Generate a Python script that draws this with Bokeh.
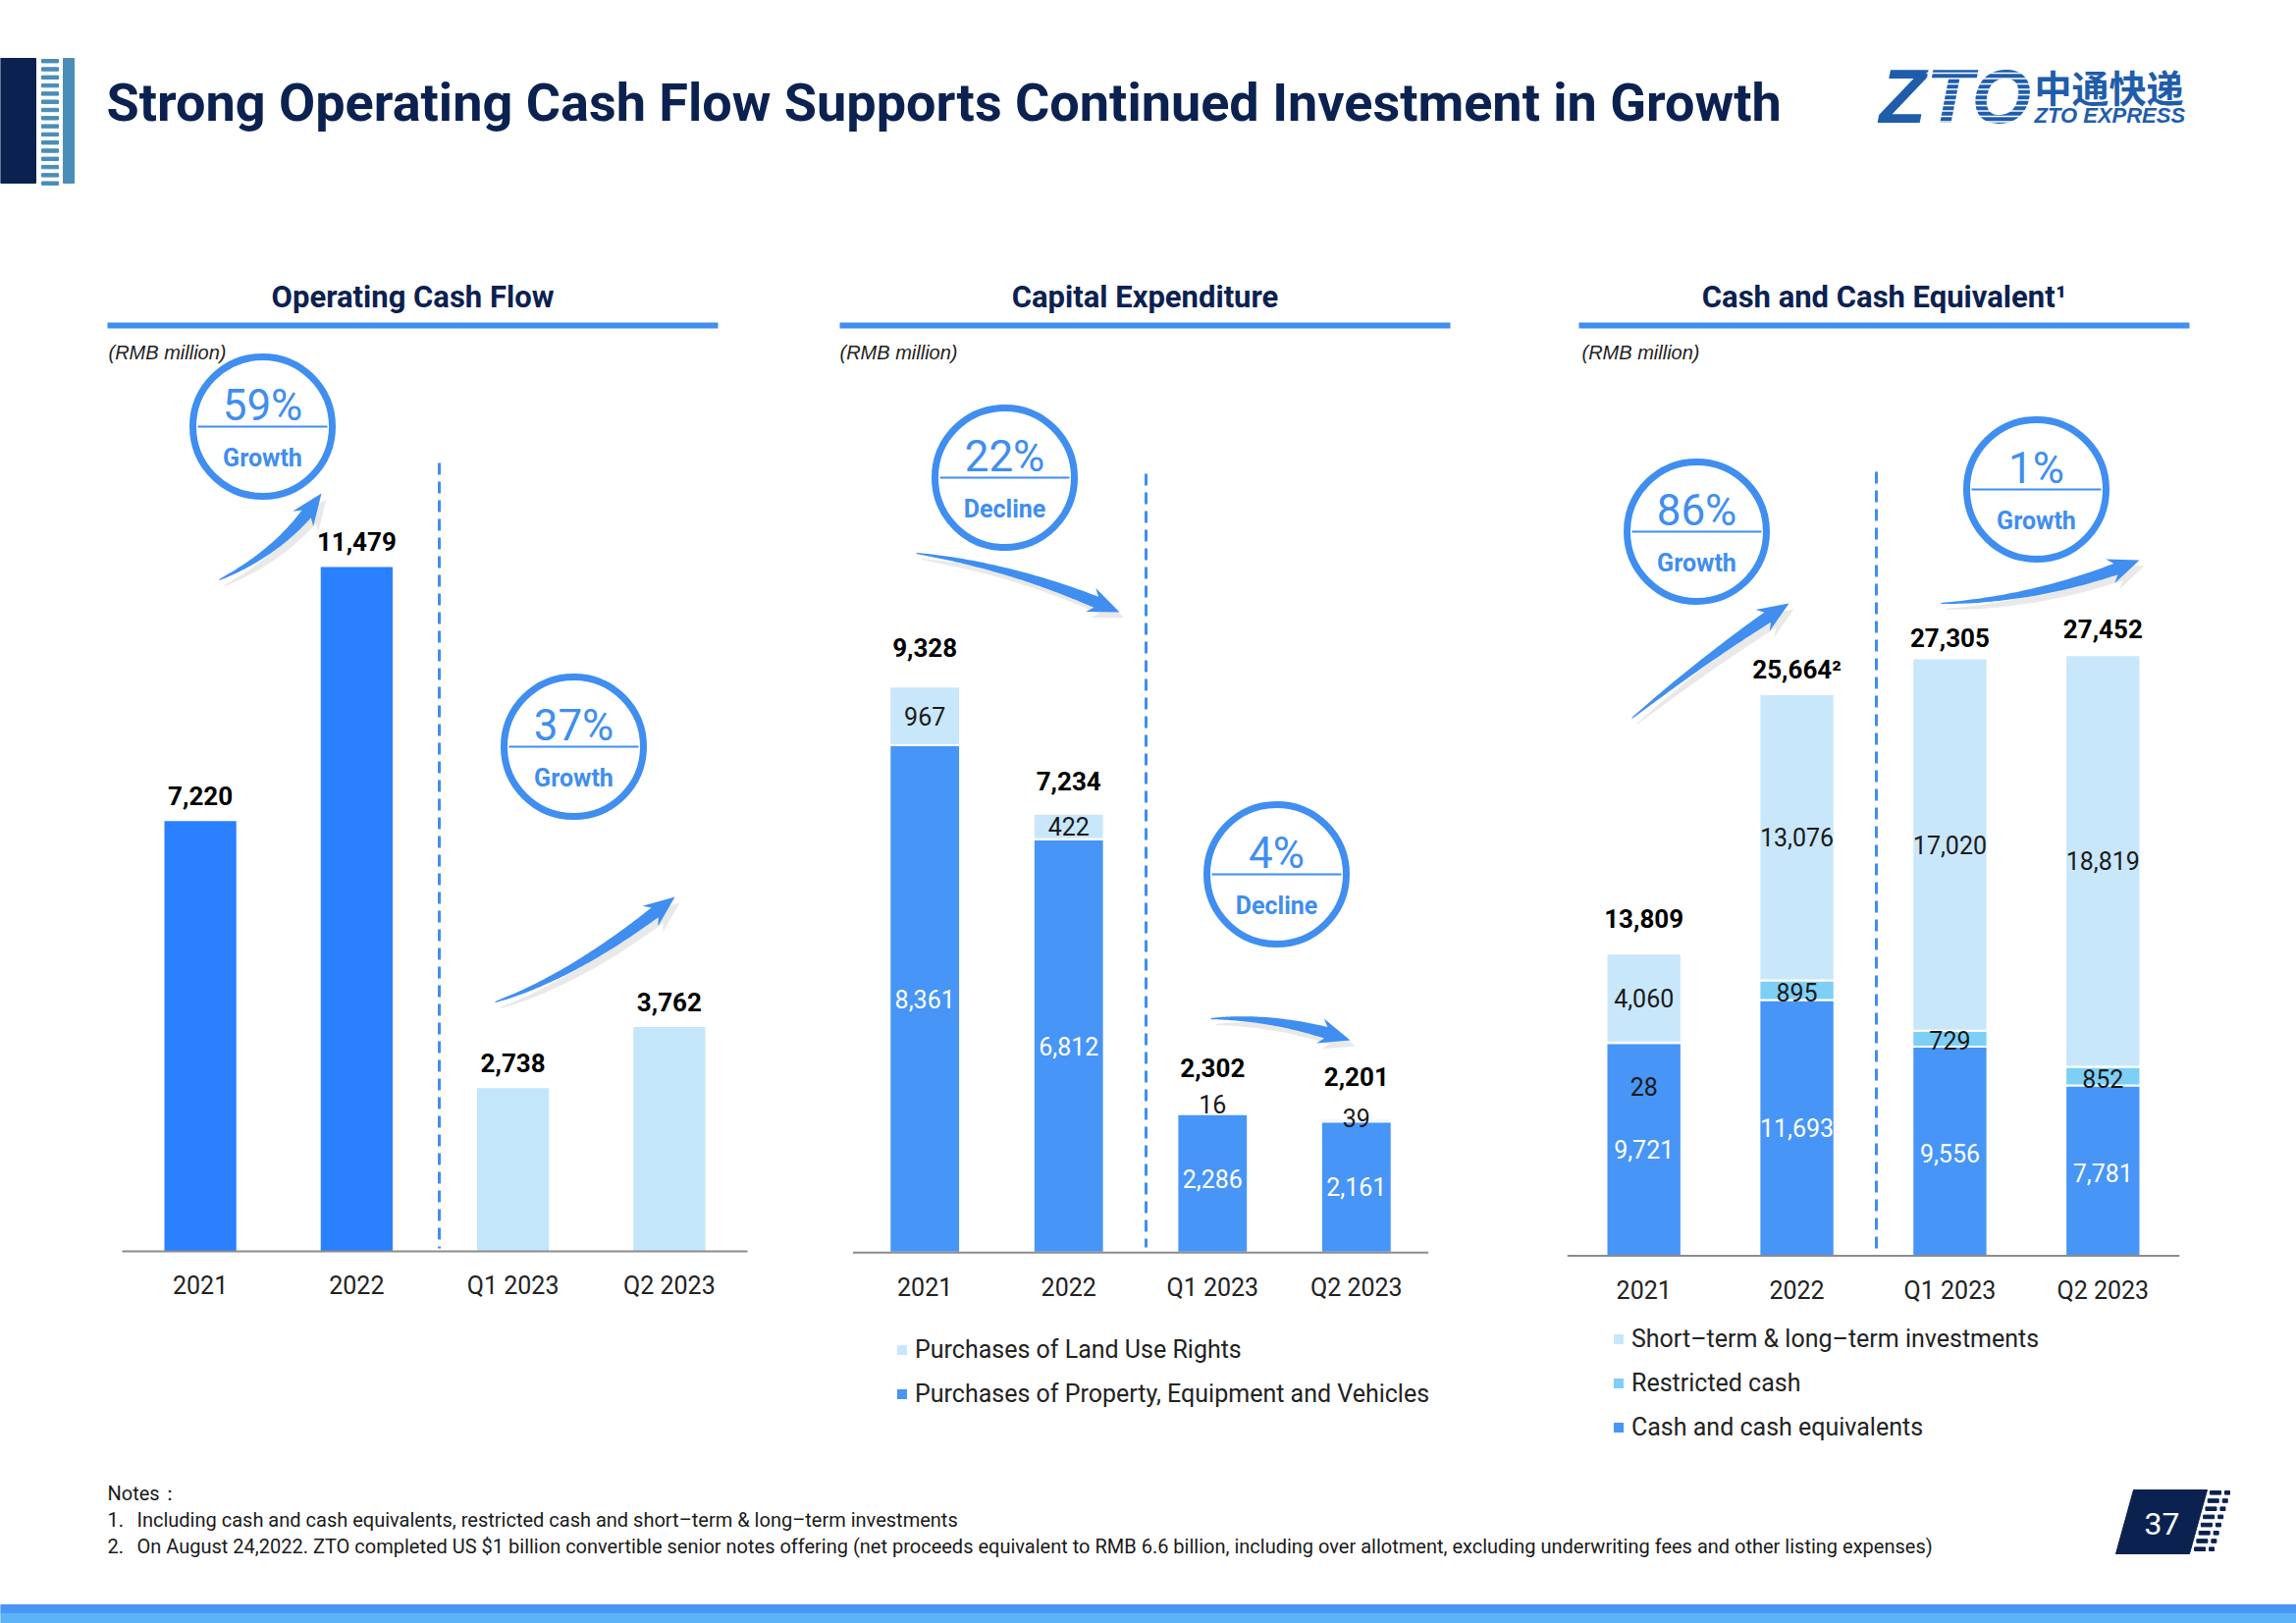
import numpy as np
from bokeh.plotting import figure
from bokeh.models import Range1d, FactorRange, Label, Legend, LegendItem, ColumnDataSource, Spacer
from bokeh.layouts import column, row
from bokeh.embed import file_html
from bokeh.resources import INLINE

# ---------------- data ----------------
periods = ["2021", "2022", "Q1 2023", "Q2 2023"]

ocf = [7220, 11479, 2738, 3762]

capex_land = [967, 422, 16, 39]
capex_ppe = [8361, 6812, 2286, 2161]
capex_total = [9328, 7234, 2302, 2201]

cash_equivalents = [9721, 11693, 9556, 7781]
restricted_cash = [28, 895, 729, 852]
investments = [4060, 13076, 17020, 18819]
cash_total = [13809, 25664, 27305, 27452]
cash_total_marks = ["", "²", "", ""]

badges_ocf = [("59%", "Growth"), ("37%", "Growth")]
badges_capex = [("22%", "Decline"), ("4%", "Decline")]
badges_cash = [("86%", "Growth"), ("1%", "Growth")]

capex_legend = ["Purchases of Land Use Rights", "Purchases of Property, Equipment and Vehicles"]
cash_legend = ["Short–term & long–term investments", "Restricted cash", "Cash and cash equivalents"]

page_title = "Strong Operating Cash Flow Supports Continued Investment in Growth"
chart_titles = ["Operating Cash Flow", "Capital Expenditure", "Cash and Cash Equivalent¹"]
unit_label = "(RMB million)"
notes_head = "Notes："
notes = [("1.", "Including cash and cash equivalents, restricted cash and short–term & long–term investments"),
         ("2.", "On August 24,2022. ZTO completed US $1 billion convertible senior notes offering (net proceeds "
                "equivalent to RMB 6.6 billion, including over allotment, excluding underwriting fees and other listing expenses)")]
page_number = "37"

# ---------------- styles ----------------
NAVY = "#0B2150"
BLUE = "#3F8EF0"
OCF_DARK = "#2B80FF"
OCF_LIGHT = "#C3E6FA"
DARK = "#4795F6"
LIGHT = "#C9E7FB"
RESTR = "#7ECFF6"
TXT = "#1A1A1A"
NARROW = "Roboto, 'DejaVu Sans Condensed', sans-serif"
SANS = "'Liberation Sans', Arial, sans-serif"
CJK = "'Noto Sans CJK SC', sans-serif"

PAGE_W, PAGE_H = 2339, 1653
ROW_TOP, ROW_BOT = 270, 1480


def plain_fig(w, h, xr, yr):
    p = figure(width=w, height=h, x_range=Range1d(*xr), y_range=Range1d(*yr),
               output_backend="svg", toolbar_location=None, min_border=0)
    p.axis.visible = False
    p.grid.visible = False
    p.outline_line_color = None
    return p


def lbl(p, x, y, text, size, color=TXT, font=NARROW, style="normal", align="left", baseline="middle"):
    p.add_layout(Label(x=x, y=y, text=text, text_font=font, text_font_size=f"{size}px",
                       text_font_style=style, text_color=color, text_align=align,
                       text_baseline=baseline))


class Panel:
    def __init__(self, base_left, base_right, base_y, k, ext_left, ext_right, bar_w):
        n = len(periods)
        self.sp = (base_right - base_left) / n
        center = (base_left + base_right) / 2
        half = max(center - ext_left, ext_right - center)
        self.L = int(round(center - half))
        self.W = int(round(2 * half))
        self.pad = (self.W / self.sp - n) / 2
        self.by = base_y
        self.k = k
        self.H = ROW_BOT - ROW_TOP
        p = figure(width=self.W, height=self.H,
                   x_range=FactorRange(factors=periods, range_padding=self.pad,
                                       range_padding_units="absolute"),
                   y_range=Range1d(self.Y(ROW_BOT), self.Y(ROW_TOP)),
                   output_backend="svg", toolbar_location=None, min_border=0)
        p.yaxis.visible = False
        p.grid.visible = False
        p.outline_line_color = None
        ax = p.xaxis[0]
        ax.fixed_location = 0
        ax.axis_line_color = None
        ax.major_tick_line_color = None
        ax.minor_tick_line_color = None
        ax.major_label_standoff = 15
        ax.major_label_text_font = NARROW
        ax.major_label_text_font_size = "25px"
        ax.major_label_text_color = "#222222"
        self.p = p
        self.bar_w = bar_w

    def X(self, px):
        return (np.asarray(px, dtype=float) - self.L) / self.sp - self.pad

    def Y(self, py):
        return (self.by - np.asarray(py, dtype=float)) / self.k

    def baseline(self):
        n = len(periods)
        self.p.segment(x0=[0], y0=[0], x1=[n], y1=[0], line_color="#8C8C8C", line_width=2)

    def hline(self, x0, x1, y, w, color=BLUE):
        self.p.segment(x0=[float(self.X(x0))], y0=[float(self.Y(y))], x1=[float(self.X(x1))],
                       y1=[float(self.Y(y))], line_color=color, line_width=w)

    def dashed(self, x, y0, y1):
        self.p.segment(x0=[float(self.X(x))], y0=[float(self.Y(y0))], x1=[float(self.X(x))],
                       y1=[float(self.Y(y1))], line_color=BLUE, line_width=3, line_dash="12 7")

    def text(self, x, y, s, size, **kw):
        lbl(self.p, float(self.X(x)), float(self.Y(y)), s, size, **kw)

    def header(self, title, tx, ul0, ul1, ux):
        self.text(tx, 302, title, 31, color=NAVY, style="bold", align="center")
        self.hline(ul0, ul1, 331, 6)
        self.text(ux, 358, unit_label, 20, font=SANS, style="italic", color="#222222")

    def badge(self, cx, cy, top, bottom):
        self.p.circle(x=[float(self.X(cx))], y=[float(self.Y(cy))], radius=71, radius_units="screen",
                      fill_color="white", line_color=BLUE, line_width=7)
        self.hline(cx - 66, cx + 66, cy, 2)
        self.text(cx, cy - 22, top, 44, color=BLUE, align="center")
        self.text(cx, cy + 32, bottom, 25, color=BLUE, align="center", style="bold")

    def arrow(self, p0, c, p2, w_end=12, head_len=26, head_w=26):
        ts = np.linspace(0, 1, 400)
        bx = (1 - ts) ** 2 * p0[0] + 2 * (1 - ts) * ts * c[0] + ts ** 2 * p2[0]
        by = (1 - ts) ** 2 * p0[1] + 2 * (1 - ts) * ts * c[1] + ts ** 2 * p2[1]
        d = np.hypot(bx - p2[0], by - p2[1])
        te = ts[int(np.argmax(d <= head_len))]
        t = np.linspace(0, te, 50)
        x = (1 - t) ** 2 * p0[0] + 2 * (1 - t) * t * c[0] + t ** 2 * p2[0]
        y = (1 - t) ** 2 * p0[1] + 2 * (1 - t) * t * c[1] + t ** 2 * p2[1]
        dx = 2 * (1 - t) * (c[0] - p0[0]) + 2 * t * (p2[0] - c[0])
        dy = 2 * (1 - t) * (c[1] - p0[1]) + 2 * t * (p2[1] - c[1])
        nn = np.hypot(dx, dy)
        nx, ny = -dy / nn, dx / nn
        hw = 0.5 * w_end * (0.08 + 0.92 * (t / te) ** 0.8)
        lx, ly = x + nx * hw, y + ny * hw
        rx, ry = x - nx * hw, y - ny * hw
        ex, ey = x[-1], y[-1]
        ux, uy = p2[0] - ex, p2[1] - ey
        un = np.hypot(ux, uy)
        ux, uy = ux / un, uy / un
        hx, hy = -uy, ux
        back = 6
        xs = list(lx) + [ex + hx * head_w / 2 - ux * back, p2[0], ex - hx * head_w / 2 - ux * back] + list(rx[::-1])
        ys = list(ly) + [ey + hy * head_w / 2 - uy * back, p2[1], ey - hy * head_w / 2 - uy * back] + list(ry[::-1])
        xs, ys = np.array(xs), np.array(ys)
        self.p.patch(x=self.X(xs + 5), y=self.Y(ys + 6), fill_color="#9A9A9A", fill_alpha=0.22, line_color=None)
        self.p.patch(x=self.X(xs), y=self.Y(ys), fill_color=BLUE, line_color=None)


# ---------------- header ----------------
hdr = plain_fig(PAGE_W, ROW_TOP, (0, PAGE_W), (ROW_TOP, 0))
hdr.quad(left=[0], right=[36], top=[59], bottom=[186], color=NAVY)
stripe_y = np.arange(60, 186, 8.3)
hdr.quad(left=42, right=59, top=stripe_y, bottom=stripe_y + 3.4, color="#4A8DB8")
hdr.quad(left=[64], right=[75], top=[59], bottom=[186], color="#4A8DB8")
lbl(hdr, 108, 104, page_title, 54, color=NAVY, style="bold")
# logo: striped "ZTO" letters (glyph text so the white stripes can be drawn over it)
hdr.text(x=[1914], y=[97], text=["ZTO"], text_font={"value": SANS}, text_font_size="78px",
         text_font_style="bold italic", text_color="#1F5DAB", text_baseline="middle")
ly = np.arange(74, 124, 5.5)
hdr.segment(x0=1962, y0=ly, x1=2072, y1=ly, line_color="white", line_width=1.6)
lbl(hdr, 2072, 87, "中通快递", 38, color="#1F5DAB", font=CJK, style="bold")
lbl(hdr, 2072, 117, "ZTO EXPRESS", 22, color="#1F5DAB", font=SANS, style="bold italic")

# ---------------- chart 1: operating cash flow ----------------
c1 = Panel(123.8, 760.8, 1273.9, 0.0607, 104, 770, 0.46)
p1 = c1.p
src1 = ColumnDataSource(dict(x=periods, top=ocf,
                             color=[OCF_DARK, OCF_DARK, OCF_LIGHT, OCF_LIGHT],
                             label=[f"{v:,}" for v in ocf]))
p1.vbar(x="x", top="top", bottom=0, width=c1.bar_w, fill_color="color", line_color=None, source=src1)
p1.text(x="x", y="top", text="label", source=src1, y_offset=-26, text_align="center",
        text_baseline="middle", text_font={"value": NARROW}, text_font_size="26px",
        text_font_style="bold", text_color="black")
c1.baseline()
c1.dashed(447, 471, 1271)
c1.header(chart_titles[0], 420, 109, 731, 110)
c1.arrow((223, 590), (291, 558), (327, 502))
c1.arrow((504, 1020), (587, 993), (687, 913))
c1.badge(267, 434, *badges_ocf[0])
c1.badge(584, 760, *badges_ocf[1])

# ---------------- chart 2: capital expenditure ----------------
c2 = Panel(868.2, 1454.4, 1275.2, 0.0618, 850, 1480, 0.49)
p2 = c2.p
src2 = ColumnDataSource(dict(x=periods, ppe=capex_ppe, land=capex_land))
r_ppe, r_land = p2.vbar_stack(["ppe", "land"], x="x", width=c2.bar_w, color=[DARK, LIGHT],
                              line_color="white", line_width=2, source=src2)
seg2 = ColumnDataSource(dict(
    x=periods * 3,
    y=[v / 2 for v in capex_ppe] + [a + b / 2 for a, b in zip(capex_ppe, capex_land)] + capex_total,
    text=[f"{v:,}" for v in capex_ppe] + [f"{v:,}" for v in capex_land] + [f"{v:,}" for v in capex_total],
    color=["white"] * 4 + [TXT] * 4 + ["black"] * 4,
    style=["normal"] * 8 + ["bold"] * 4,
    size=["25px"] * 8 + ["26px"] * 4,
    yoff=[0, 0, -5, 0] + [0, 0, -9, -2] + [-40, -33, -46, -43],
))
p2.text(x="x", y="y", text="text", source=seg2, y_offset="yoff", text_align="center",
        text_baseline="middle", text_font={"value": NARROW}, text_font_size="size",
        text_font_style="style", text_color="color")
c2.baseline()
c2.dashed(1167, 482, 1270)
c2.header(chart_titles[1], 1166, 855, 1477, 855)
c2.arrow((933, 563), (1037, 577), (1140, 623))
c2.arrow((1233, 1037), (1302, 1034), (1375, 1059))
c2.badge(1023, 486, *badges_capex[0])
c2.badge(1300, 890, *badges_capex[1])
leg2 = Legend(items=[LegendItem(label=capex_legend[0], renderers=[r_land]),
                     LegendItem(label=capex_legend[1], renderers=[r_ppe])],
              location=(911 - c2.L, 46), orientation="vertical",
              glyph_width=15, glyph_height=15, label_standoff=6, spacing=16,
              padding=0, margin=0, border_line_color=None, background_fill_alpha=0,
              label_text_font=NARROW, label_text_font_size="25px", label_text_color="#222222")
p2.add_layout(leg2)

# ---------------- chart 3: cash and cash equivalents ----------------
c3 = Panel(1596.1, 2219.6, 1278.4, 0.02228, 1590, 2234, 0.49)
p3 = c3.p
src3 = ColumnDataSource(dict(x=periods, cash=cash_equivalents, restr=restricted_cash, inv=investments))
r_cash, r_restr, r_inv = p3.vbar_stack(["cash", "restr", "inv"], x="x", width=c3.bar_w,
                                       color=[DARK, RESTR, LIGHT], line_color="white",
                                       line_width=2, source=src3)
seg3 = ColumnDataSource(dict(
    x=periods * 4,
    y=[v / 2 for v in cash_equivalents]
      + [a + b / 2 for a, b in zip(cash_equivalents, restricted_cash)]
      + [a + b + c / 2 for a, b, c in zip(cash_equivalents, restricted_cash, investments)]
      + cash_total,
    text=[f"{v:,}" for v in cash_equivalents] + [f"{v:,}" for v in restricted_cash]
         + [f"{v:,}" for v in investments] + [f"{v:,}{m}" for v, m in zip(cash_total, cash_total_marks)],
    color=["white"] * 4 + [TXT] * 8 + ["black"] * 4,
    style=["normal"] * 12 + ["bold"] * 4,
    size=["25px"] * 12 + ["26px"] * 4,
    yoff=[0, 0, 2, 2] + [44, 2, 2, 2] + [0, 0, 0, 0] + [-36, -25, -21, -27],
))
p3.text(x="x", y="y", text="text", source=seg3, y_offset="yoff", text_align="center",
        text_baseline="middle", text_font={"value": NARROW}, text_font_size="size",
        text_font_style="style", text_color="color")
c3.baseline()
c3.dashed(1911, 480, 1274)
c3.header(chart_titles[2], 1919, 1608, 2230, 1611)
c3.arrow((1662, 731), (1748, 661), (1822, 614))
c3.arrow((1977, 614), (2079, 610), (2179, 570))
c3.badge(1728, 541, *badges_cash[0])
c3.badge(2074, 498, *badges_cash[1])
leg3 = Legend(items=[LegendItem(label=cash_legend[0], renderers=[r_inv]),
                     LegendItem(label=cash_legend[1], renderers=[r_restr]),
                     LegendItem(label=cash_legend[2], renderers=[r_cash])],
              location=(1641 - c3.L, 12), orientation="vertical",
              glyph_width=15, glyph_height=15, label_standoff=6, spacing=16,
              padding=0, margin=0, border_line_color=None, background_fill_alpha=0,
              label_text_font=NARROW, label_text_font_size="25px", label_text_color="#222222")
p3.add_layout(leg3)

# ---------------- footer ----------------
ftr = plain_fig(PAGE_W, PAGE_H - ROW_BOT, (0, PAGE_W), (PAGE_H, ROW_BOT))
lbl(ftr, 109, 1520, notes_head, 20)
for i, (num, txt) in enumerate(notes):
    lbl(ftr, 109, 1547 + 27 * i, num, 20)
    lbl(ftr, 139, 1547 + 27 * i, txt, 20)
ftr.patch(x=[2173, 2248, 2230, 2155], y=[1517, 1517, 1582, 1582], color=NAVY)
lbl(ftr, 2202, 1551, page_number, 32, color="white", align="center")
rows_y = 1518 + 8.2 * np.arange(8)
shift = -(rows_y - 1518) * 0.277
ftr.quad(left=2251 + shift, right=2262 + shift, top=rows_y, bottom=rows_y + 3.6, color=NAVY)
ftr.quad(left=2266 + shift, right=2271 + shift, top=rows_y, bottom=rows_y + 3.6, color=NAVY)
ftr.quad(left=[0], right=[PAGE_W], top=[1634], bottom=[1643], color="#4A96F4")
ftr.quad(left=[0], right=[PAGE_W], top=[1643], bottom=[PAGE_H], color="#5CB3F8")

# ---------------- layout ----------------
H = ROW_BOT - ROW_TOP
children = [Spacer(width=c1.L, height=H), p1,
            Spacer(width=c2.L - (c1.L + c1.W), height=H), p2,
            Spacer(width=c3.L - (c2.L + c2.W), height=H), p3,
            Spacer(width=max(PAGE_W - (c3.L + c3.W), 0), height=H)]
layout = column(hdr, row(children, spacing=0), ftr, spacing=0)

open("out.html", "w").write(file_html(layout, INLINE))
